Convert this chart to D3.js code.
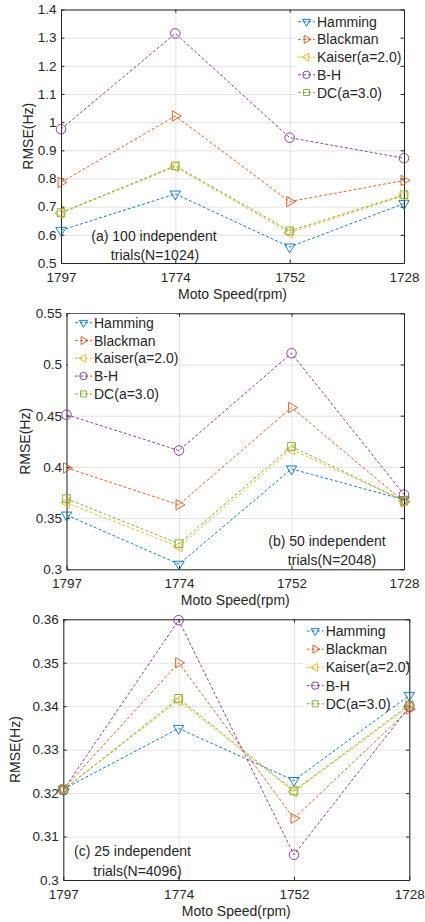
<!DOCTYPE html>
<html>
<head>
<meta charset="utf-8">
<script src="https://cdn.jsdelivr.net/npm/d3@7"></script>
<style>
  html, body { margin: 0; padding: 0; background: #fff; }
  #chart { width: 425px; height: 922px; }
  text { font-family: "Liberation Sans", Arial, sans-serif; fill: #262626; }
</style>
</head>
<body>
<div id="chart"></div>
<script>
const speeds = ["1797", "1774", "1752", "1728"];
const seriesNames = ["Hamming", "Blackman", "Kaiser(a=2.0)", "B-H", "DC(a=3.0)"];

// (a) 100 trials, N=1024
const hammingA = [0.616, 0.745, 0.557, 0.711];
const blackmanA = [0.786, 1.022, 0.718, 0.793];
const kaiserA = [0.677, 0.842, 0.607, 0.739];
const bhA = [0.975, 1.315, 0.945, 0.872];
const dcA = [0.679, 0.845, 0.614, 0.742];
const yTicksA = ["0.5", "0.6", "0.7", "0.8", "0.9", "1", "1.1", "1.2", "1.3", "1.4"];

// (b) 50 trials, N=2048
const hammingB = [0.353, 0.305, 0.398, 0.368];
const blackmanB = [0.399, 0.363, 0.458, 0.366];
const kaiserB = [0.365, 0.322, 0.417, 0.367];
const bhB = [0.451, 0.416, 0.511, 0.373];
const dcB = [0.369, 0.325, 0.420, 0.367];
const yTicksB = ["0.3", "0.35", "0.4", "0.45", "0.5", "0.55"];

// (c) 25 trials, N=4096
const hammingC = [0.3209, 0.3349, 0.3229, 0.3425];
const blackmanC = [0.3209, 0.3500, 0.3142, 0.3393];
const kaiserC = [0.3208, 0.3413, 0.3203, 0.3400];
const bhC = [0.3207, 0.3598, 0.3058, 0.3399];
const dcC = [0.3207, 0.3418, 0.3205, 0.3403];
const yTicksC = ["0.3", "0.31", "0.32", "0.33", "0.34", "0.35", "0.36"];

const COLORS = ["#0072BD", "#D95319", "#EDB120", "#7E2F8E", "#77AC30"];
const MARKERS = [
    { type: d3.symbolTriangle, size: 46, rot: 180 },
    { type: d3.symbolTriangle, size: 46, rot: 90 },
    { type: d3.symbolTriangle, size: 46, rot: -90 },
    { type: d3.symbolCircle, size: 72, rot: 0 },
    { type: d3.symbolSquare, size: 60, rot: 0 },
];

const panels = [
    {
        series: [hammingA, blackmanA, kaiserA, bhA, dcA], yTicks: yTicksA,
        box: { l: 61, r: 404, t: 9.5, b: 263 }, ylabX: 28,
        legend: { x: 296, y: 12, w: 104, h: 89, lineX: 298, row0: 21.7, dy: 17.7 },
        note: [["(a) 100 independent", 154, 240.5], ["trials(N=1024)", 155, 260]],
    },
    {
        series: [hammingB, blackmanB, kaiserB, bhB, dcB], yTicks: yTicksB,
        box: { l: 66.5, r: 404, t: 313.3, b: 569.3 }, ylabX: 25,
        legend: { x: 68, y: 314, w: 108, h: 89, lineX: 75, row0: 322.7, dy: 17.8 },
        note: [["(b) 50 independent", 327, 545.5], ["trials(N=2048)", 332, 565]],
    },
    {
        series: [hammingC, blackmanC, kaiserC, bhC, dcC], yTicks: yTicksC,
        box: { l: 63.3, r: 409.3, t: 619.3, b: 880 }, ylabX: 15,
        legend: { x: 303, y: 621, w: 89, h: 88, lineX: 306.7, row0: 631, dy: 18.2 },
        note: [["(c) 25 independent", 132.5, 855.5], ["trials(N=4096)", 137.5, 875.5]],
    },
];

const svg = d3.select("#chart").append("svg")
    .attr("width", 425).attr("height", 922);

const FS = 13.5;
const TICK = 3.4;

function markerPath(m, scale) {
    return d3.symbol().type(m.type).size(m.size * scale * scale)();
}

panels.forEach((p) => {
    const { l, r, t, b } = p.box;
    const x = d3.scalePoint().domain(speeds).range([l, r]).padding(0);
    const yVals = p.yTicks.map(Number);
    const y = d3.scaleLinear().domain(d3.extent(yVals)).range([b, t]);

    const g = svg.append("g");

    // grid
    const gridG = g.append("g");
    gridG.append("g").attr("transform", `translate(${l},0)`)
        .call(d3.axisLeft(y).tickValues(yVals).tickSize(-(r - l)).tickFormat(""))
        .call((s) => s.select(".domain").remove());
    gridG.append("g").attr("transform", `translate(0,${b})`)
        .call(d3.axisBottom(x).tickSize(-(b - t)).tickFormat(""))
        .call((s) => s.select(".domain").remove());
    gridG.selectAll("line").attr("stroke", "#e3e3e3").attr("stroke-width", 1);

    // axes with inward ticks
    const axL = g.append("g").attr("transform", `translate(${l},0)`)
        .call(d3.axisLeft(y).tickValues(yVals).tickFormat((d, i) => p.yTicks[i])
            .tickSizeInner(-TICK).tickSizeOuter(0).tickPadding(4.5));
    const axR = g.append("g").attr("transform", `translate(${r},0)`)
        .call(d3.axisRight(y).tickValues(yVals).tickFormat("").tickSizeInner(-TICK).tickSizeOuter(0));
    const axB = g.append("g").attr("transform", `translate(0,${b})`)
        .call(d3.axisBottom(x).tickSizeInner(-TICK).tickSizeOuter(0).tickPadding(9));
    const axT = g.append("g").attr("transform", `translate(0,${t})`)
        .call(d3.axisTop(x).tickFormat("").tickSizeInner(-TICK).tickSizeOuter(0));
    [axL, axR, axB, axT].forEach((a) => {
        a.selectAll("line").attr("stroke", "#262626");
        a.select(".domain").attr("stroke", "#262626");
        a.selectAll("text").attr("font-size", FS).attr("fill", "#262626")
            .attr("font-family", "Liberation Sans, Arial, sans-serif");
    });

    // series
    const line = d3.line().x((d, i) => x(speeds[i])).y((d) => y(d));
    p.series.forEach((vals, si) => {
        g.append("path")
            .attr("d", line(vals))
            .attr("fill", "none")
            .attr("stroke", COLORS[si])
            .attr("stroke-width", 0.9)
            .attr("stroke-dasharray", "3,2");
    });
    p.series.forEach((vals, si) => {
        const m = MARKERS[si];
        g.append("g").selectAll("path").data(vals).enter().append("path")
            .attr("d", markerPath(m, 1))
            .attr("transform", (d, i) => `translate(${x(speeds[i])},${y(d)}) rotate(${m.rot})`)
            .attr("fill", "none")
            .attr("stroke", COLORS[si])
            .attr("stroke-width", 0.9);
    });

    // legend
    const lg = p.legend;
    const legG = g.append("g");
    legG.append("rect").attr("x", lg.x).attr("y", lg.y).attr("width", lg.w).attr("height", lg.h)
        .attr("fill", "#fff");
    seriesNames.forEach((name, si) => {
        const cy = lg.row0 + si * lg.dy;
        const m = MARKERS[si];
        legG.append("line")
            .attr("x1", lg.lineX).attr("x2", lg.lineX + 17).attr("y1", cy).attr("y2", cy)
            .attr("stroke", COLORS[si]).attr("stroke-width", 0.9).attr("stroke-dasharray", "3,2");
        legG.append("path")
            .attr("d", markerPath(m, 0.78))
            .attr("transform", `translate(${lg.lineX + 8.5},${cy}) rotate(${m.rot})`)
            .attr("fill", "none").attr("stroke", COLORS[si]).attr("stroke-width", 0.9);
        legG.append("text")
            .attr("x", lg.lineX + 19).attr("y", cy).attr("dy", "0.36em")
            .attr("font-size", 14).text(name);
    });

    // annotation
    p.note.forEach(([txt, nx, ny]) => {
        g.append("text").attr("x", nx).attr("y", ny).attr("text-anchor", "middle")
            .attr("font-size", 14).text(txt);
    });

    // axis labels
    g.append("text").attr("x", (l + r) / 2).attr("y", b + 36).attr("text-anchor", "middle")
        .attr("font-size", 14).text("Moto Speed(rpm)");
    g.append("text")
        .attr("transform", `translate(${p.ylabX},${(t + b) / 2}) rotate(-90)`)
        .attr("text-anchor", "middle").attr("dy", "0.36em")
        .attr("font-size", 14).text("RMSE(Hz)");
});
</script>
</body>
</html>
